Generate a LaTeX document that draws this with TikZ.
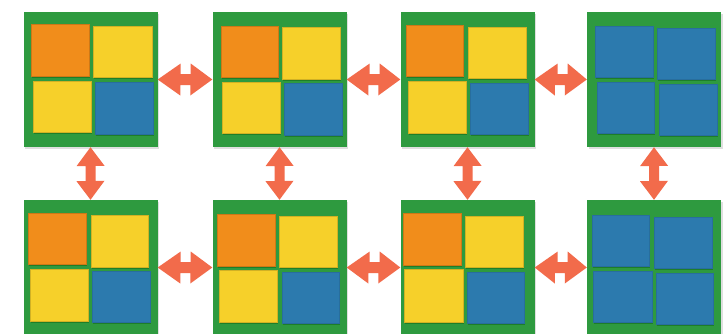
\documentclass[tikz,border=0pt]{standalone}
\usepackage{tikz}
\usetikzlibrary{arrows.meta,positioning,shadows}
\definecolor{boardgreen}{HTML}{2E9A3F}
\definecolor{tileorange}{HTML}{F18D1B}
\definecolor{tileyellow}{HTML}{F6D02A}
\definecolor{tileblue}{HTML}{2C7AAE}
\definecolor{swapred}{HTML}{F26B4B}
\tikzset{every picture/.prefix style={execute at begin picture={\sffamily}}}
% double-headed swap arrow between two boards (x=1pt,y=-1pt units)
\newcommand{\hswap}[2]{\fill[swapred] (#1.east) -- ++(23,-16) -- ++(0,10.5) -- ++(10,0) -- ++(0,-10.5)
  -- (#2.west) -- ++(-22,16) -- ++(0,-10.5) -- ++(-10,0) -- ++(0,10.5) -- cycle;}
\newcommand{\vswap}[2]{\fill[swapred] (#1.south) -- ++(-14,19) -- ++(9,0) -- ++(0,15) -- ++(-9,0)
  -- (#2.north) -- ++(14,-19) -- ++(-9,0) -- ++(0,-15) -- ++(9,0) -- cycle;}

\begin{document}
\begin{tikzpicture}[x=1pt,y=-1pt,
  board/.style={fill=boardgreen,minimum width=134pt,minimum height=135pt,inner sep=0pt,
                drop shadow={opacity=0.25,shadow xshift=1.5pt,shadow yshift=-1.5pt}},
  tile/.style={drop shadow={opacity=0.35,fill=black!70!green,shadow xshift=1pt,shadow yshift=-1.5pt}},
  otile/.style={tile,fill=tileorange,draw=tileorange!85!black,line width=0.5pt},
  ytile/.style={tile,fill=tileyellow,draw=tileyellow!85!black,line width=0.5pt},
  btile/.style={tile,fill=tileblue,draw=tileblue!90!black,line width=0.5pt}]
\clip (0,0) rectangle (728,333);
\fill[white] (0,0) rectangle (728,333);
% boards
\node[board] (a1) at (90.5,79.5) {};
\node[board] (a2) at (279.5,79.5) {};
\node[board] (a3) at (467.5,79.5) {};
\node[board] (a4) at (654,79.5) {};
\node[board] (b1) at (90.5,267.5) {};
\node[board] (b2) at (279.5,267.5) {};
\node[board] (b3) at (467.5,267.5) {};
\node[board] (b4) at (654,267.5) {};
% tiles, top row
\filldraw[otile] (31,24) rectangle (89,76);
\filldraw[ytile] (93,26) rectangle (152,77);
\filldraw[ytile] (33,81) rectangle (91,132);
\filldraw[btile] (95,82) rectangle (153,134);
\filldraw[otile] (221,26) rectangle (278,77);
\filldraw[ytile] (282,27) rectangle (340,79);
\filldraw[ytile] (222,82) rectangle (280,133);
\filldraw[btile] (284,83) rectangle (342,135);
\filldraw[otile] (406,25) rectangle (463,76);
\filldraw[ytile] (468,27) rectangle (526,78);
\filldraw[ytile] (408,81) rectangle (466,133);
\filldraw[btile] (470,83) rectangle (528,134);
\filldraw[btile] (595,26) rectangle (653,77);
\filldraw[btile] (657,28) rectangle (715,79);
\filldraw[btile] (597,82) rectangle (654,133);
\filldraw[btile] (659,84) rectangle (717,135);
% tiles, bottom row
\filldraw[otile] (28,213) rectangle (86,264);
\filldraw[ytile] (91,215) rectangle (148,267);
\filldraw[ytile] (30,269) rectangle (88,321);
\filldraw[btile] (92,271) rectangle (150,322);
\filldraw[otile] (217,214) rectangle (275,266);
\filldraw[ytile] (279,216) rectangle (337,267);
\filldraw[ytile] (219,270) rectangle (277,322);
\filldraw[btile] (282,272) rectangle (339,323);
\filldraw[otile] (403,213) rectangle (461,265);
\filldraw[ytile] (465,216) rectangle (523,267);
\filldraw[ytile] (404,269) rectangle (463,322);
\filldraw[btile] (467,272) rectangle (524,323);
\filldraw[btile] (592,215) rectangle (649,266);
\filldraw[btile] (654,217) rectangle (712,268);
\filldraw[btile] (593,271) rectangle (652,322);
\filldraw[btile] (656,273) rectangle (713,324);
% swaps
\hswap{a1}{a2}
\hswap{a2}{a3}
\hswap{a3}{a4}
\hswap{b1}{b2}
\hswap{b2}{b3}
\hswap{b3}{b4}
\vswap{a1}{b1}
\vswap{a2}{b2}
\vswap{a3}{b3}
\vswap{a4}{b4}
\end{tikzpicture}
\end{document}
